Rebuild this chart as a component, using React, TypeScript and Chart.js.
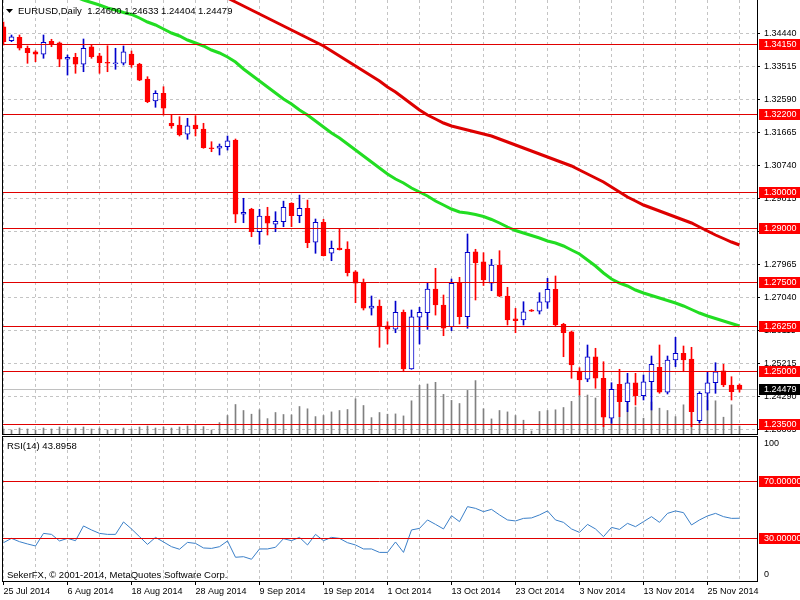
import React, { useEffect, useRef } from 'react';
import { Chart, registerables } from 'chart.js';

Chart.register(...registerables);

// ---------------- data ----------------
const symbolTitle = 'EURUSD,Daily';
const headerOHLC = ['1.24600', '1.24633', '1.24404', '1.24479'];

const dateTickLabels = ['25 Jul 2014', '6 Aug 2014', '18 Aug 2014', '28 Aug 2014', '9 Sep 2014', '19 Sep 2014', '1 Oct 2014', '13 Oct 2014', '23 Oct 2014', '3 Nov 2014', '13 Nov 2014', '25 Nov 2014'];
const dateTickBars = [0, 8, 16, 24, 32, 40, 48, 56, 64, 72, 80, 88];

const opens = [1.34634, 1.34242, 1.34338, 1.3403, 1.33934, 1.33862, 1.34226, 1.34186, 1.33722, 1.33778, 1.33582, 1.34074, 1.33822, 1.33638, 1.33598, 1.3361, 1.3387, 1.3359, 1.3317, 1.32554, 1.3277, 1.3193, 1.31882, 1.31622, 1.31882, 1.3177, 1.31246, 1.3123, 1.31274, 1.3146, 1.29382, 1.2953, 1.28894, 1.29334, 1.29102, 1.29174, 1.2969, 1.29342, 1.2955, 1.28598, 1.29158, 1.2829, 1.28438, 1.2841, 1.27774, 1.2745, 1.2675, 1.26814, 1.26262, 1.26162, 1.26638, 1.2505, 1.26498, 1.26626, 1.2729, 1.26842, 1.26234, 1.2745, 1.26514, 1.28334, 1.28054, 1.2745, 1.27962, 1.2709, 1.26458, 1.26422, 1.26702, 1.2667, 1.26918, 1.27282, 1.26302, 1.26094, 1.24994, 1.24762, 1.25394, 1.2479, 1.2367, 1.24622, 1.24134, 1.24666, 1.24302, 1.24694, 1.25098, 1.24398, 1.25302, 1.2549, 1.2533, 1.23602, 1.2437, 1.24666, 1.25002, 1.24602, 1.246];
const highs = [1.34766, 1.34402, 1.34402, 1.34094, 1.33962, 1.34402, 1.34282, 1.34206, 1.33842, 1.3389, 1.3429, 1.34122, 1.3389, 1.34102, 1.3403, 1.34094, 1.33954, 1.3361, 1.33234, 1.32842, 1.32954, 1.3216, 1.32114, 1.3207, 1.32142, 1.3193, 1.31414, 1.3135, 1.31574, 1.3149, 1.2983, 1.2955, 1.29522, 1.29578, 1.29454, 1.2975, 1.29706, 1.2992, 1.2978, 1.2925, 1.29242, 1.28634, 1.28962, 1.28614, 1.27802, 1.2757, 1.27094, 1.26982, 1.26374, 1.2695, 1.26702, 1.26702, 1.26778, 1.2745, 1.2787, 1.27122, 1.2757, 1.27618, 1.2883, 1.28402, 1.28306, 1.28122, 1.28362, 1.27338, 1.2675, 1.26934, 1.26716, 1.27186, 1.2759, 1.27654, 1.2633, 1.26114, 1.25086, 1.25722, 1.2563, 1.25254, 1.24666, 1.25042, 1.2493, 1.2493, 1.24882, 1.25414, 1.25722, 1.25414, 1.25938, 1.25694, 1.25658, 1.24414, 1.24974, 1.25226, 1.25182, 1.24834, 1.24633];
const lows = [1.34122, 1.34214, 1.33982, 1.3361, 1.33654, 1.3375, 1.34074, 1.33514, 1.3328, 1.3333, 1.33374, 1.3375, 1.3333, 1.33374, 1.33442, 1.33562, 1.33498, 1.33122, 1.32506, 1.32378, 1.3216, 1.3179, 1.31574, 1.31482, 1.31574, 1.3123, 1.31134, 1.31042, 1.3118, 1.29146, 1.29146, 1.28754, 1.28542, 1.28802, 1.28894, 1.29034, 1.29034, 1.29146, 1.28446, 1.2829, 1.28214, 1.28082, 1.28382, 1.27654, 1.26906, 1.26702, 1.2656, 1.25658, 1.2575, 1.26066, 1.24974, 1.25042, 1.2575, 1.26162, 1.2656, 1.25982, 1.26122, 1.2631, 1.2619, 1.26982, 1.27388, 1.27242, 1.27074, 1.26282, 1.26066, 1.26282, 1.2666, 1.2659, 1.2675, 1.26234, 1.25394, 1.2479, 1.24322, 1.24694, 1.2451, 1.23434, 1.2353, 1.23714, 1.23854, 1.24042, 1.24182, 1.23902, 1.2437, 1.2435, 1.25114, 1.24974, 1.23434, 1.23546, 1.23902, 1.2437, 1.24554, 1.24182, 1.24404];
const closes = [1.34214, 1.34354, 1.3403, 1.33906, 1.33862, 1.34198, 1.3415, 1.33722, 1.33778, 1.33582, 1.3403, 1.33794, 1.33626, 1.3361, 1.33626, 1.33934, 1.33562, 1.3314, 1.32534, 1.3277, 1.3235, 1.31854, 1.31602, 1.31862, 1.3177, 1.31246, 1.31218, 1.31294, 1.31442, 1.29382, 1.29438, 1.28894, 1.29334, 1.2913, 1.29186, 1.29578, 1.29342, 1.2955, 1.28586, 1.29158, 1.28222, 1.2843, 1.2839, 1.27746, 1.2745, 1.2675, 1.26814, 1.26234, 1.26162, 1.26638, 1.2505, 1.26514, 1.26638, 1.2729, 1.26842, 1.2619, 1.2745, 1.26514, 1.28318, 1.28026, 1.27542, 1.27962, 1.2709, 1.26422, 1.26402, 1.26654, 1.2667, 1.26934, 1.27282, 1.26282, 1.26066, 1.25162, 1.24742, 1.25394, 1.2479, 1.23698, 1.24482, 1.24134, 1.24666, 1.24302, 1.24694, 1.25182, 1.24398, 1.25302, 1.2549, 1.25302, 1.23854, 1.2437, 1.24666, 1.24974, 1.24602, 1.24414, 1.24479];

const tickVolumes = [5000, 4000, 6000, 5000, 4000, 6000, 5000, 7000, 5000, 6000, 7000, 5000, 6000, 4000, 5000, 6000, 5000, 7000, 8000, 6000, 7000, 6000, 7000, 8100, 9100, 7400, 4000, 11400, 18500, 29500, 23500, 19800, 24200, 15400, 21500, 19500, 19100, 27500, 25200, 17400, 18500, 22100, 23500, 24500, 35200, 28500, 16400, 21500, 19800, 20100, 18100, 33200, 48700, 50000, 51700, 39600, 33600, 30500, 43600, 53400, 25200, 15100, 23500, 22100, 18500, 13800, 3000, 22500, 23500, 24200, 26500, 32600, 39000, 39000, 36000, 42000, 44000, 36000, 40000, 27000, 15800, 32000, 25800, 23500, 17400, 29200, 42000, 38000, 33600, 33200, 16800, 29200, 8000];

const maFast = [null, null, null, null, null, null, null, null, null, 1.35466, 1.35382, 1.35312, 1.35242, 1.35158, 1.35102, 1.35032, 1.34976, 1.34878, 1.34766, 1.34682, 1.3457, 1.34458, 1.34374, 1.34262, 1.34178, 1.34094, 1.33982, 1.33898, 1.33786, 1.33646, 1.3345, 1.33282, 1.33114, 1.32946, 1.32778, 1.3261, 1.3247, 1.32302, 1.32162, 1.31994, 1.31826, 1.31658, 1.31518, 1.3135, 1.31182, 1.31014, 1.30846, 1.30678, 1.3051, 1.3037, 1.30258, 1.30118, 1.30006, 1.29894, 1.29754, 1.29642, 1.2953, 1.29446, 1.29418, 1.29376, 1.2932, 1.29236, 1.29138, 1.29026, 1.28928, 1.28858, 1.28788, 1.28718, 1.28634, 1.28578, 1.28494, 1.28382, 1.2827, 1.28102, 1.27934, 1.27738, 1.2757, 1.27458, 1.27374, 1.27262, 1.27178, 1.27108, 1.27038, 1.26968, 1.26898, 1.26814, 1.26716, 1.26618, 1.26534, 1.26464, 1.26394, 1.26324, 1.26254];
const maSlow = [null, null, null, null, null, null, null, null, null, null, null, null, null, null, null, null, null, null, null, null, null, null, null, null, null, null, null, null, 1.35438, 1.35326, 1.35214, 1.35102, 1.3499, 1.34878, 1.34766, 1.34654, 1.34542, 1.3443, 1.34318, 1.34206, 1.34094, 1.33954, 1.33814, 1.33674, 1.33534, 1.33394, 1.33254, 1.33114, 1.32946, 1.32806, 1.32638, 1.3247, 1.32302, 1.32162, 1.3205, 1.31938, 1.31854, 1.31798, 1.31742, 1.31686, 1.3163, 1.31574, 1.3149, 1.31406, 1.31322, 1.31238, 1.31154, 1.3107, 1.30986, 1.30902, 1.30818, 1.30734, 1.30622, 1.3051, 1.30398, 1.30286, 1.30146, 1.30006, 1.29866, 1.29754, 1.29642, 1.29558, 1.29474, 1.2939, 1.29306, 1.29222, 1.29138, 1.29026, 1.28914, 1.28802, 1.28704, 1.28606, 1.28522];

const rsiValues = [26.8, 29.8, 27.5, 25.9, 24.5, 33.3, 32.6, 28.0, 29.8, 28.2, 38.5, 35.7, 33.3, 32.6, 32.6, 41.3, 36.4, 31.0, 25.6, 30.5, 27.3, 24.0, 22.2, 27.0, 26.3, 23.1, 22.8, 24.0, 28.0, 16.6, 17.0, 15.2, 22.4, 22.4, 23.6, 29.6, 28.2, 30.5, 25.2, 32.6, 28.2, 30.5, 29.8, 26.8, 25.2, 22.4, 22.4, 20.0, 20.0, 27.3, 20.0, 35.7, 36.8, 42.7, 39.6, 36.4, 45.7, 41.5, 52.0, 50.8, 48.5, 50.1, 46.2, 42.7, 42.0, 43.8, 44.1, 46.2, 49.0, 42.7, 41.0, 36.4, 34.0, 39.6, 36.4, 31.0, 37.5, 36.1, 40.3, 38.0, 41.5, 45.0, 41.0, 47.3, 49.0, 47.8, 39.2, 42.7, 45.5, 47.3, 45.0, 43.8, 43.9];

const priceTickValues = [1.3444, 1.33515, 1.3259, 1.31665, 1.3074, 1.29815, 1.2889, 1.27965, 1.2704, 1.26115, 1.25215, 1.2429, 1.23365];
const levelPrices = [1.3415, 1.322, 1.3, 1.29, 1.275, 1.2625, 1.25, 1.235];
const lastPrice = 1.24479;
const rsiLevels = [70, 30];
const rsiLevelLabels = ['70.000000', '30.000000'];
const rsiAxisValues = [100, 0];
const rsiAxisLabels = ['100', '0'];
const rsiTitle = 'RSI(14) 43.8958';
const copyrightText = 'SekerFX, \u00A9 2001-2014, MetaQuotes Software Corp.';

// ---------------- layout / style ----------------
const FONT = '"Liberation Sans", Arial, sans-serif';
const X_MIN = -0.1875;
const X_MAX = 94.1875;
const PRICE_MIN = 1.2323;
const PRICE_MAX = 1.35382;
const VOL_MAX = 434000;
const GRID = '#C4C4C4';
const LEVEL_RED = '#E00000';
const BOX_RED = '#FF0000';
const CANDLE_RED = '#FF0000';
const CANDLE_BLUE = '#0000CC';
const MA_GREEN = '#22DD22';
const MA_RED = '#DD0000';
const VOL_GRAY = '#808080';
const RSI_BLUE = '#3A7FC8';

const bars = opens.map((_, i) => i);
const gridBars = bars.filter((i) => i % 4 === 0);
const isBull = bars.map((i) => closes[i] >= opens[i]);

function hline(ctx: any, x1: number, x2: number, y: number) {
  ctx.beginPath();
  ctx.moveTo(x1, y);
  ctx.lineTo(x2, y);
  ctx.stroke();
}
function vline(ctx: any, x: number, y1: number, y2: number) {
  ctx.beginPath();
  ctx.moveTo(x, y1);
  ctx.lineTo(x, y2);
  ctx.stroke();
}
function drawBox(ctx: any, yc: number, bg: string, text: string) {
  const y = Math.round(yc);
  ctx.fillStyle = bg;
  ctx.fillRect(759, y - 5, 41, 11);
  ctx.fillStyle = '#FFFFFF';
  ctx.font = '9px ' + FONT;
  ctx.textAlign = 'left';
  ctx.textBaseline = 'middle';
  ctx.fillText(text, 764, y + 0.5);
}

const mainDecor = {
  id: 'mainDecor',
  beforeDatasetsDraw(chart: any) {
    const { ctx, chartArea: a } = chart;
    const ys = chart.scales.y;
    ctx.save();
    ctx.strokeStyle = '#C0C0C0';
    ctx.lineWidth = 1;
    hline(ctx, a.left, a.right, Math.round(ys.getPixelForValue(lastPrice)) + 0.5);
    ctx.restore();
  },
  afterDatasetsDraw(chart: any) {
    const { ctx, chartArea: a } = chart;
    const ys = chart.scales.y;
    ctx.save();
    ctx.strokeStyle = LEVEL_RED;
    ctx.lineWidth = 1;
    levelPrices.forEach((p) => hline(ctx, a.left, a.right, Math.round(ys.getPixelForValue(p)) + 0.5));
    ctx.restore();
  },
  afterDraw(chart: any) {
    const { ctx, chartArea: a } = chart;
    const ys = chart.scales.y;
    ctx.save();
    ctx.strokeStyle = '#000';
    ctx.lineWidth = 1;
    vline(ctx, 2.5, 0, a.bottom + 1);
    hline(ctx, 2, a.right + 1, a.bottom + 0.5);
    levelPrices.forEach((p) => drawBox(ctx, ys.getPixelForValue(p), BOX_RED, p.toFixed(5)));
    drawBox(ctx, ys.getPixelForValue(lastPrice), '#000000', lastPrice.toFixed(5));
    // header
    ctx.fillStyle = '#000';
    ctx.beginPath();
    ctx.moveTo(6, 9);
    ctx.lineTo(13, 9);
    ctx.lineTo(9.5, 13);
    ctx.closePath();
    ctx.fill();
    ctx.font = '9.5px ' + FONT;
    ctx.textAlign = 'left';
    ctx.textBaseline = 'middle';
    ctx.fillText(symbolTitle + '  ' + headerOHLC.join(' '), 18, 11.5);
    ctx.restore();
  },
};

const rsiDecor = {
  id: 'rsiDecor',
  afterDatasetsDraw(chart: any) {
    const { ctx, chartArea: a } = chart;
    const ys = chart.scales.y;
    ctx.save();
    ctx.strokeStyle = LEVEL_RED;
    ctx.lineWidth = 1;
    rsiLevels.forEach((v) => hline(ctx, a.left, a.right, Math.round(ys.getPixelForValue(v)) + 0.5));
    ctx.restore();
  },
  afterDraw(chart: any) {
    const { ctx, chartArea: a } = chart;
    const ys = chart.scales.y;
    ctx.save();
    ctx.strokeStyle = '#000';
    ctx.lineWidth = 1;
    vline(ctx, 2.5, 0, a.bottom + 1);
    hline(ctx, 2, a.right + 1, 0.5);
    vline(ctx, a.right + 0.5, 0, a.bottom + 1);
    rsiLevels.forEach((v, k) => drawBox(ctx, ys.getPixelForValue(v), BOX_RED, rsiLevelLabels[k]));
    ctx.fillStyle = '#000';
    ctx.font = '9px ' + FONT;
    ctx.textAlign = 'left';
    ctx.textBaseline = 'middle';
    ctx.fillText(rsiAxisLabels[0], 764, ys.getPixelForValue(rsiAxisValues[0]) + 6);
    ctx.fillText(rsiAxisLabels[1], 764, ys.getPixelForValue(rsiAxisValues[1]) - 6);
    ctx.font = '9.5px ' + FONT;
    ctx.fillText(rsiTitle, 7, 10.5);
    ctx.fillText(copyrightText, 7, 139.5);
    ctx.restore();
  },
};

export default function App() {
  const mainRef = useRef<HTMLCanvasElement | null>(null);
  const rsiRef = useRef<HTMLCanvasElement | null>(null);

  useEffect(() => {
    const bodyBg = bars.map((i) => (isBull[i] ? '#FFFFFF' : CANDLE_RED));
    const candleEdge = bars.map((i) => (isBull[i] ? CANDLE_BLUE : CANDLE_RED));

    const main = new Chart(mainRef.current as any, {
      type: 'bar',
      data: {
        datasets: [
          {
            type: 'line',
            label: 'MA fast',
            data: bars.filter((i) => maFast[i] !== null).map((i) => ({ x: i, y: maFast[i] })),
            borderColor: MA_GREEN,
            borderWidth: 3,
            pointRadius: 0,
            tension: 0,
            order: 0,
          } as any,
          {
            type: 'line',
            label: 'MA slow',
            data: bars.filter((i) => maSlow[i] !== null).map((i) => ({ x: i, y: maSlow[i] })),
            borderColor: MA_RED,
            borderWidth: 3,
            pointRadius: 0,
            tension: 0,
            order: 0,
          } as any,
          {
            type: 'bar',
            label: 'body',
            data: bars.map((i) => ({ x: i, y: [opens[i], closes[i]] })),
            backgroundColor: bodyBg,
            borderColor: candleEdge,
            borderWidth: 1,
            borderSkipped: false,
            barThickness: 5,
            minBarLength: 1,
            grouped: false,
            order: 1,
          } as any,
          {
            type: 'bar',
            label: 'wick',
            data: bars.map((i) => ({ x: i, y: [lows[i], highs[i]] })),
            backgroundColor: candleEdge,
            borderWidth: 0,
            barThickness: 1,
            grouped: false,
            order: 2,
          } as any,
          {
            type: 'bar',
            label: 'volume',
            yAxisID: 'yv',
            data: bars.map((i) => ({ x: i, y: tickVolumes[i] })),
            backgroundColor: VOL_GRAY,
            borderWidth: 0,
            barThickness: 1,
            grouped: false,
            order: 3,
          } as any,
        ],
      },
      options: {
        animation: false,
        responsive: false,
        maintainAspectRatio: false,
        events: [],
        layout: { padding: { left: 2, top: 0, right: 0, bottom: 2 } },
        plugins: { legend: { display: false }, tooltip: { enabled: false }, title: { display: false } },
        scales: {
          x: {
            type: 'linear',
            min: X_MIN,
            max: X_MAX,
            offset: false,
            afterBuildTicks: (s: any) => {
              s.ticks = gridBars.map((v) => ({ value: v }));
            },
            afterFit: (s: any) => {
              s.height = 0;
              s.paddingLeft = 0;
              s.paddingRight = 0;
            },
            ticks: { display: false },
            grid: { display: true, color: GRID, lineWidth: 1, drawTicks: false, offset: false },
            border: { display: false, dash: [3, 3] },
          },
          y: {
            type: 'linear',
            position: 'right',
            min: PRICE_MIN,
            max: PRICE_MAX,
            beginAtZero: false,
            afterBuildTicks: (s: any) => {
              s.ticks = priceTickValues.map((v) => ({ value: v }));
            },
            afterFit: (s: any) => {
              s.width = 43;
              s.paddingTop = 0;
              s.paddingBottom = 0;
            },
            ticks: {
              autoSkip: false,
              padding: 4,
              color: '#000',
              font: { family: FONT, size: 9 },
              callback: (v: any) => Number(v).toFixed(5),
            },
            grid: { color: GRID, lineWidth: 1, drawTicks: true, tickLength: 3, tickColor: '#000' },
            border: { display: true, color: '#000', width: 1, dash: [3, 3] },
          },
          yv: { type: 'linear', display: false, min: 0, max: VOL_MAX },
        },
      } as any,
      plugins: [mainDecor],
    });

    const rsi = new Chart(rsiRef.current as any, {
      type: 'line',
      data: {
        datasets: [
          {
            label: 'RSI(14)',
            data: bars.map((i) => ({ x: i, y: rsiValues[i] })),
            borderColor: RSI_BLUE,
            borderWidth: 1,
            pointRadius: 0,
            tension: 0,
          },
        ],
      },
      options: {
        animation: false,
        responsive: false,
        maintainAspectRatio: false,
        events: [],
        layout: { padding: { left: 2, top: 2, right: 0, bottom: 0 } },
        plugins: { legend: { display: false }, tooltip: { enabled: false }, title: { display: false } },
        scales: {
          x: {
            type: 'linear',
            min: X_MIN,
            max: X_MAX,
            offset: false,
            afterBuildTicks: (s: any) => {
              s.ticks = gridBars.map((v) => ({ value: v }));
            },
            afterFit: (s: any) => {
              s.height = 19;
              s.paddingLeft = 0;
              s.paddingRight = 0;
            },
            ticks: {
              display: true,
              autoSkip: false,
              maxRotation: 0,
              minRotation: 0,
              align: 'start',
              padding: 1,
              color: '#000',
              font: { family: FONT, size: 9 },
              callback: (v: any) => {
                const k = dateTickBars.indexOf(Number(v));
                return k >= 0 ? dateTickLabels[k] : '';
              },
            },
            grid: {
              color: GRID,
              lineWidth: 1,
              drawTicks: true,
              tickLength: 4,
              tickColor: (c: any) => (c.tick && dateTickBars.indexOf(c.tick.value) >= 0 ? '#000' : 'rgba(0,0,0,0)'),
            },
            border: { display: true, color: '#000', width: 1, dash: [3, 3] },
          },
          y: {
            type: 'linear',
            position: 'right',
            min: 0,
            max: 100,
            afterFit: (s: any) => {
              s.width = 43;
              s.paddingTop = 0;
              s.paddingBottom = 0;
            },
            ticks: { display: false },
            grid: { display: false },
            border: { display: true, color: '#000', width: 1 },
          },
        },
      } as any,
      plugins: [rsiDecor],
    });

    return () => {
      main.destroy();
      rsi.destroy();
    };
  }, []);

  return (
    <div style={{ position: 'absolute', left: 0, top: 0, width: 800, height: 600, background: '#FFFFFF' }}>
      <canvas ref={mainRef} width={800} height={436} style={{ position: 'absolute', left: 0, top: 0, width: 800, height: 436 }} />
      <canvas ref={rsiRef} width={800} height={164} style={{ position: 'absolute', left: 0, top: 436, width: 800, height: 164 }} />
    </div>
  );
}
